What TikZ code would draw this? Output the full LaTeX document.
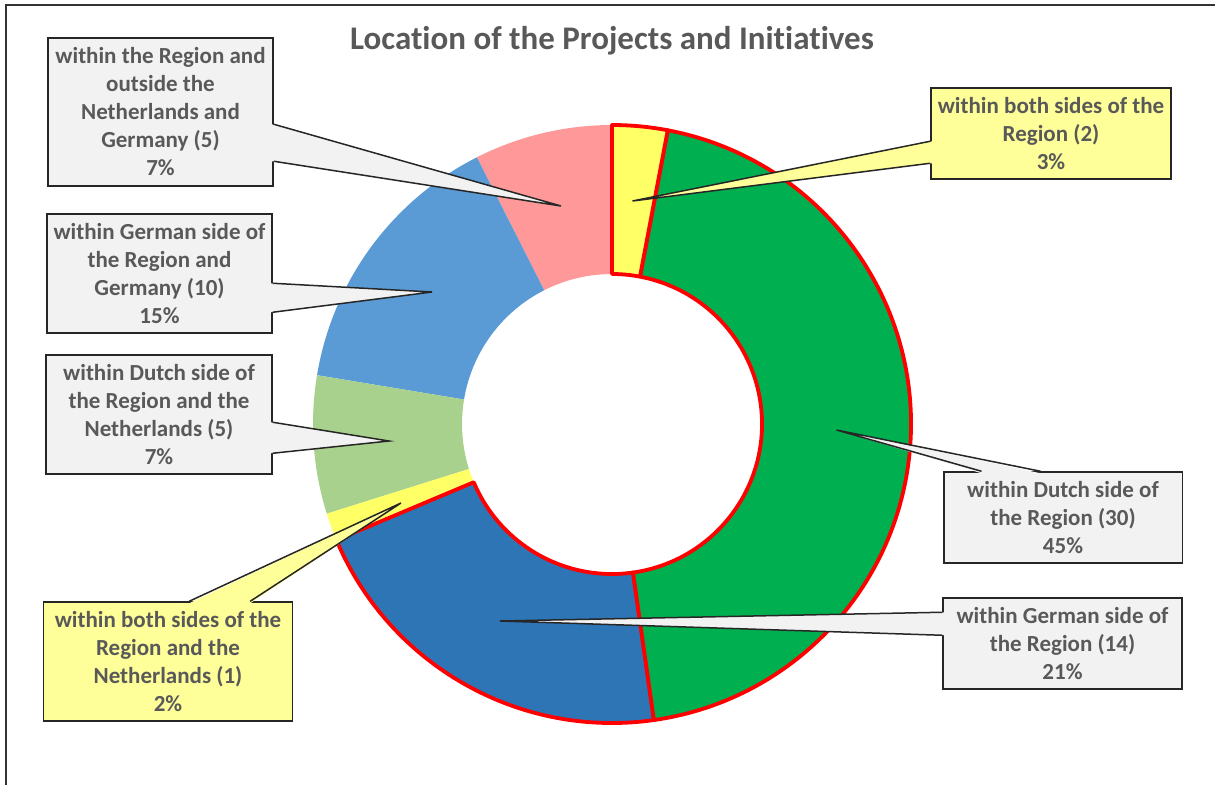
\documentclass[tikz,border=0pt]{standalone}
\usepackage{fontspec}
\setmainfont[Ligatures=NoCommon]{Carlito}
\usetikzlibrary{calc}
\definecolor{boxgray}{HTML}{F2F2F2}
\definecolor{boxyel}{HTML}{FFFF99}
\definecolor{txtgray}{HTML}{595959}
\definecolor{pinkseg}{HTML}{FF9999}
\definecolor{blueseg}{HTML}{5B9BD5}
\definecolor{lgreenseg}{HTML}{A9D18E}
\definecolor{yelseg}{HTML}{FFFF66}
\definecolor{dblueseg}{HTML}{2E75B6}
\definecolor{greenseg}{HTML}{00B050}
\begin{document}
\begin{tikzpicture}[x=1pt,y=-1pt,
  callout/.style={draw=black!85,line width=1.5pt,fill=boxgray,text=txtgray,align=center,inner sep=0pt,font=\bfseries\fontsize{23}{28}\selectfont},
  ptr/.style={black!85,line width=1.5pt},
  redseg/.style={draw=red,line width=3.8pt,line join=round}]
\useasboundingbox (0,0) rectangle (1215,785);
\draw[black!80,line width=2pt] (6,785) -- (6,5) -- (1215,5);
\node at (612,41) [font=\bfseries\fontsize{33}{38}\selectfont,text=txtgray] (title) {Location of the Projects and Initiatives};
% the ring
\begin{scope}[shift={(612,424)}]
\fill[pinkseg] (243.13:299) arc[start angle=243.13,end angle=270,radius=299] -- (270:150) arc[start angle=270,end angle=243.13,radius=150] -- cycle;
\fill[blueseg] (189.40:299) arc[start angle=189.40,end angle=243.13,radius=299] -- (243.13:150) arc[start angle=243.13,end angle=189.40,radius=150] -- cycle;
\fill[lgreenseg] (162.54:299) arc[start angle=162.54,end angle=189.40,radius=299] -- (189.40:150) arc[start angle=189.40,end angle=162.54,radius=150] -- cycle;
\fill[yelseg] (157.16:299) arc[start angle=157.16,end angle=162.54,radius=299] -- (162.54:150) arc[start angle=162.54,end angle=157.16,radius=150] -- cycle;
\filldraw[redseg,fill=dblueseg] (81.94:299) arc[start angle=81.94,end angle=157.16,radius=299] -- (157.16:150) arc[start angle=157.16,end angle=81.94,radius=150] -- cycle;
\filldraw[redseg,fill=greenseg] (-79.254:299) arc[start angle=-79.254,end angle=81.94,radius=299] -- (81.94:150) arc[start angle=81.94,end angle=-79.254,radius=150] -- cycle;
\filldraw[redseg,fill=yelseg] (-90:299) arc[start angle=-90,end angle=-79.254,radius=299] -- (-79.254:150) arc[start angle=-79.254,end angle=-90,radius=150] -- cycle;
\end{scope}
% label boxes
\node at (160.5,112) [callout,minimum width=225,minimum height=148] (cOut) {within the Region and\\outside the\\Netherlands and\\Germany (5)\\7\%};
\node at (159.5,273.5) [callout,minimum width=225,minimum height=119] (cGerDE) {within German side of\\the Region and\\Germany (10)\\15\%};
\node at (159,414.5) [callout,minimum width=226,minimum height=119] (cDutNL) {within Dutch side of\\the Region and the\\Netherlands (5)\\7\%};
\node at (168,661.5) [callout,fill=boxyel,minimum width=249,minimum height=119] (cBothNL) {within both sides of the\\Region and the\\Netherlands (1)\\2\%};
\node at (1051,133.5) [callout,fill=boxyel,minimum width=240,minimum height=91] (cBoth) {within both sides of the\\Region (2)\\3\%};
\node at (1063,517.5) [callout,minimum width=238.5,minimum height=91] (cDutch) {within Dutch side of\\the Region (30)\\45\%};
\node at (1062.5,643.5) [callout,minimum width=239,minimum height=91] (cGerman) {within German side of\\the Region (14)\\21\%};
% pointer tips
\coordinate (tOut) at (561,206);
\coordinate (tGerDE) at (432,292);
\coordinate (tDutNL) at (389,441);
\coordinate (tBothNL) at (401,503);
\coordinate (tBoth) at (632.5,201);
\coordinate (tDutch) at (836.5,430);
\coordinate (tGerman) at (500,621);
% pointers
\fill[boxgray] ($(cOut.north east)+(-2,87)$) -- (tOut) -- ($(cOut.north east)+(-2,124)$) -- cycle;
\draw[ptr] ($(cOut.north east)+(0,87)$) -- (tOut) -- ($(cOut.north east)+(0,124)$);
\fill[boxgray] ($(cGerDE.north east)+(-2,70)$) -- (tGerDE) -- ($(cGerDE.north east)+(-2,99)$) -- cycle;
\draw[ptr] ($(cGerDE.north east)+(0,70)$) -- (tGerDE) -- ($(cGerDE.north east)+(0,99)$);
\fill[boxgray] ($(cDutNL.north east)+(-2,68)$) -- (tDutNL) -- ($(cDutNL.north east)+(-2,99)$) -- cycle;
\draw[ptr] ($(cDutNL.north east)+(0,68)$) -- (tDutNL) -- ($(cDutNL.north east)+(0,99)$);
\fill[boxyel] ($(cBothNL.north west)+(146.5,2)$) -- (tBothNL) -- ($(cBothNL.north west)+(207.5,2)$) -- cycle;
\draw[ptr] ($(cBothNL.north west)+(146.5,0)$) -- (tBothNL) -- ($(cBothNL.north west)+(207.5,0)$);
\fill[boxyel] ($(cBoth.north west)+(2,54)$) -- (tBoth) -- ($(cBoth.north west)+(2,76)$) -- cycle;
\draw[ptr] ($(cBoth.north west)+(0,54)$) -- (tBoth) -- ($(cBoth.north west)+(0,76)$);
\fill[boxgray] ($(cDutch.north west)+(38.5,2)$) -- (tDutch) -- ($(cDutch.north west)+(97.5,2)$) -- cycle;
\draw[ptr] ($(cDutch.north west)+(38.5,0)$) -- (tDutch) -- ($(cDutch.north west)+(97.5,0)$);
\fill[boxgray] ($(cGerman.north west)+(2,15)$) -- (tGerman) -- ($(cGerman.north west)+(2,38)$) -- cycle;
\draw[ptr] ($(cGerman.north west)+(0,15)$) -- (tGerman) -- ($(cGerman.north west)+(0,38)$);
\end{tikzpicture}
\end{document}
